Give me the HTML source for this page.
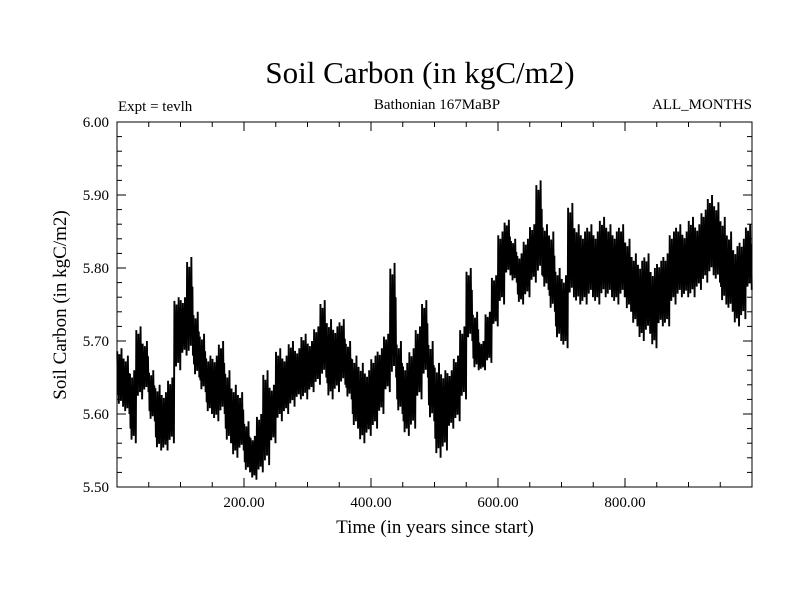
<!DOCTYPE html>
<html><head><meta charset="utf-8"><style>
body{margin:0;background:#fff}
svg text{font-family:"Liberation Serif",serif;fill:#000}
</style></head><body>
<svg id="c" width="800" height="600" xmlns="http://www.w3.org/2000/svg">
<rect width="800" height="600" fill="#fff"/>
<text x="420" y="83" font-size="31" text-anchor="middle">Soil Carbon (in kgC/m2)</text>
<text x="118" y="111" font-size="15">Expt = tevlh</text>
<text x="437" y="109" font-size="15" text-anchor="middle">Bathonian 167MaBP</text>
<text x="752" y="109" font-size="15" text-anchor="end">ALL_MONTHS</text>
<text transform="translate(66,305) rotate(-90)" font-size="19" text-anchor="middle">Soil Carbon (in kgC/m2)</text>
<text x="435" y="533" font-size="19" text-anchor="middle">Time (in years since start)</text>
<g id="ticks"></g>
<path id="series" fill="none" stroke="#000" stroke-width="1.9" stroke-linejoin="miter"/>
<rect x="117" y="122" width="635" height="365" fill="none" stroke="#000" stroke-width="1"/>
</svg>
<script>
const hiVals=[5.69,5.68,5.66,5.72,5.70,5.66,5.64,5.63,5.65,5.76,
5.76,5.815,5.74,5.71,5.68,5.68,5.70,5.66,5.64,5.63,
5.59,5.57,5.60,5.66,5.64,5.69,5.68,5.70,5.69,5.71,
5.70,5.72,5.756,5.73,5.72,5.73,5.70,5.68,5.67,5.66,
5.68,5.69,5.71,5.807,5.70,5.67,5.69,5.72,5.756,5.70,
5.67,5.66,5.66,5.68,5.72,5.80,5.74,5.70,5.74,5.79,
5.85,5.866,5.84,5.82,5.84,5.86,5.92,5.86,5.85,5.80,
5.79,5.889,5.86,5.85,5.86,5.85,5.87,5.86,5.85,5.86,
5.84,5.82,5.81,5.82,5.80,5.81,5.82,5.85,5.86,5.85,
5.87,5.86,5.88,5.90,5.89,5.87,5.85,5.83,5.84,5.86];
const loVals=[5.61,5.60,5.56,5.62,5.63,5.59,5.55,5.55,5.56,5.66,
5.68,5.68,5.65,5.63,5.60,5.59,5.60,5.56,5.54,5.55,
5.52,5.51,5.52,5.53,5.56,5.59,5.60,5.61,5.62,5.62,
5.63,5.64,5.65,5.62,5.63,5.64,5.62,5.58,5.56,5.57,
5.58,5.60,5.63,5.65,5.60,5.57,5.58,5.62,5.65,5.59,
5.54,5.55,5.58,5.59,5.62,5.70,5.66,5.66,5.67,5.72,
5.75,5.79,5.78,5.75,5.76,5.78,5.79,5.77,5.74,5.70,
5.69,5.76,5.75,5.75,5.76,5.75,5.76,5.76,5.75,5.76,
5.74,5.72,5.70,5.71,5.69,5.72,5.72,5.75,5.76,5.76,
5.76,5.77,5.78,5.79,5.78,5.75,5.74,5.72,5.73,5.77];
const binYears=10;
const xTickVals=[200,400,600,800];
const xTickLabels=["200.00","400.00","600.00","800.00"];
const yTickVals=[5.5,5.6,5.7,5.8,5.9,6.0];
const yTickLabels=["5.50","5.60","5.70","5.80","5.90","6.00"];
const X0=117,X1=752,Y0=487,Y1=122,XMIN=0,XMAX=1000,YMIN=5.5,YMAX=6.0;
const xs=v=>X0+(v-XMIN)/(XMAX-XMIN)*(X1-X0);
const ys=v=>Y0-(v-YMIN)/(YMAX-YMIN)*(Y0-Y1);
const NS="http://www.w3.org/2000/svg";
const svg=document.getElementById('c'),tg=document.getElementById('ticks');
function line(x1,y1,x2,y2){const l=document.createElementNS(NS,'line');l.setAttribute('x1',x1);l.setAttribute('y1',y1);l.setAttribute('x2',x2);l.setAttribute('y2',y2);l.setAttribute('stroke','#000');l.setAttribute('stroke-width','1');tg.appendChild(l);return l;}
for(let v=50;v<XMAX;v+=50){const x=xs(v),L=(v%200===0)?9:5;
const a=line(x,Y0,x,Y0-L);
const b=line(x,Y1,x,Y1+L);}
for(let k=1;k<25;k++){const v=YMIN+k*0.02,y=ys(v),L=(k%5===0)?9:5;
const a=line(X0,y,X0+L,y);
const b=line(X1,y,X1-L,y);}
xTickVals.forEach((v,i)=>{const t=document.createElementNS(NS,'text');t.setAttribute('x',xs(v));t.setAttribute('y',507);t.setAttribute('font-size','15');t.setAttribute('text-anchor','middle');t.textContent=xTickLabels[i];


svg.appendChild(t);});
yTickVals.forEach((v,i)=>{const t=document.createElementNS(NS,'text');t.setAttribute('x',109);t.setAttribute('y',ys(v)+5);t.setAttribute('font-size','15');t.setAttribute('text-anchor','end');t.textContent=yTickLabels[i];


svg.appendChild(t);});
// fixed within-bin jitter pattern (fractions of the bin's hi-lo range)
const pat=[0.95,0.2,0.75,0.05,0.9,0.3,0.6,0.1,1.0,0.25,0.7,0.0];
let d='';
hiVals.forEach((h,i)=>{const lo=loVals[i],b=i*binYears,n=pat.length;
for(let j=0;j<n;j++){const yr=b+(j+0.5)*binYears/n;const v=lo+(h-lo)*pat[j];
d+=(d?'L':'M')+xs(yr).toFixed(2)+' '+ys(v).toFixed(1);}});
document.getElementById('series').setAttribute('d',d);
</script>
</body></html>
